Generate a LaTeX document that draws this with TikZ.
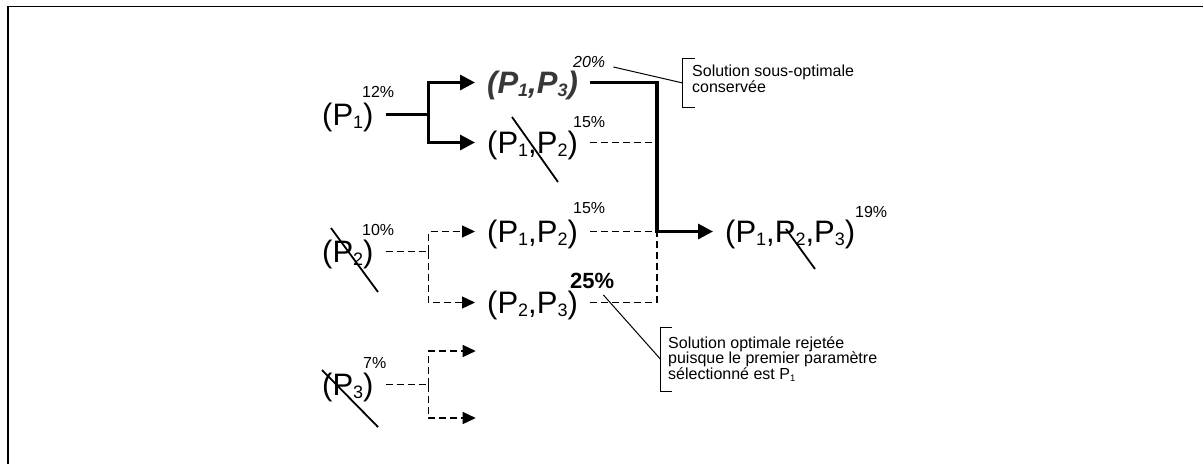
\documentclass[tikz,border=0pt]{standalone}
\usepackage{fontspec}
\setmainfont{Liberation Sans}
\usetikzlibrary{arrows.meta,calc}
% lowered index inside the large parameter sets
\newcommand\sbs[1]{\raisebox{-3.5pt}{\fontsize{18}{18}\selectfont #1}}
% small index inside the notes
\newcommand\tinysub[1]{\raisebox{-2pt}{\fontsize{9.5}{9.5}\selectfont #1}}
\begin{document}
\begin{tikzpicture}[x=1pt,y=-1pt,
  big/.style={font=\fontsize{31}{31}\selectfont, inner sep=0pt,
    text height=27pt, text depth=6pt, anchor=base west},
  bigemph/.style={big, font=\fontsize{31}{31}\selectfont\bfseries\itshape, text=black!78},
  pct/.style={font=\fontsize{16}{16}\selectfont, inner sep=0pt, anchor=base west},
  solidline/.style={line width=3.2pt},
  dashline/.style={line width=1.3pt, dash pattern=on 7pt off 4pt},
  bigtip/.style={-{Triangle[length=15pt,width=15pt]}},
  smalltip/.style={-{Triangle[length=13pt,width=12pt]}},
  strike/.style={line width=1.8pt},
  bracket/.style={inner sep=0pt, minimum width=12pt},
  note/.style={inner sep=0pt, anchor=north west, align=left},
  leader/.style={line width=1pt},
  frame/.style={line width=1.5pt}]
\useasboundingbox (0,0) rectangle (1203,464);
\draw[frame] (8,464) -- (8,6.5) -- (1203,6.5);

% parameter sets
\node[big]     (p1)   at (322,125) {(P\sbs{1})};
\node[big]     (p2)   at (322,262) {(P\sbs{2})};
\node[big]     (p3)   at (322,395) {(P\sbs{3})};
\node[bigemph] (p13)  at (487,93)  {(P\sbs{1},P\sbs{3})};
\node[big]     (p12x) at (487,153) {(P\sbs{1},P\sbs{2})};
\node[big]     (p12)  at (487,242) {(P\sbs{1},P\sbs{2})};
\node[big]     (p23)  at (487,313) {(P\sbs{2},P\sbs{3})};
\node[big]     (p123) at (725,242) {(P\sbs{1},P\sbs{2},P\sbs{3})};

% scores
\node[pct] (l12) at (362,97)  {12\%};
\node[pct, font=\fontsize{16}{16}\selectfont\itshape] (l20) at (573,67) {20\%};
\node[pct] (l15a) at (573,127) {15\%};
\node[pct] (l15b) at (573,213) {15\%};
\node[pct] (l10) at (362,235) {10\%};
\node[pct, font=\fontsize{22}{22}\selectfont\bfseries] (l25) at (570,288) {25\%};
\node[pct] (l7)  at (363,368) {7\%};
\node[pct] (l19) at (855,217) {19\%};

% rejected entries
\draw[strike] (512,117) -- (558,182);
\draw[strike] (331,228) -- (378,292);
\draw[strike] (322,370) -- (378,427);
\draw[strike] (786,229) -- (815,269);

% branch points
\coordinate (j1) at ([xshift=55pt]p1.east);
\coordinate (j2) at ([xshift=55pt]p2.east);
\coordinate (j3) at ([xshift=55pt]p3.east);
\coordinate (busx) at (657,0);
\coordinate (m) at (busx |- p12.east);
\coordinate (e1) at ([yshift=33.5pt,xshift=47pt]j3);
\coordinate (e2) at ([yshift=-33.5pt,xshift=47pt]j3);

% path of P1
\draw[solidline] ([xshift=12pt]p1.east) -- (j1);
\draw[solidline,bigtip] (j1) |- ([xshift=-12pt]p13.west);
\draw[solidline,bigtip] (j1) |- ([xshift=-12pt]p12x.west);

% path of P2
\draw[dashline] ([xshift=12pt]p2.east) -- (j2);
\draw[dashline,smalltip] (j2) |- ([xshift=-12pt]p12.west);
\draw[dashline,smalltip] (j2) |- ([xshift=-12pt]p23.west);

% path of P3
\draw[dashline] ([xshift=12pt]p3.east) -- (j3);
\draw[dashline,smalltip] (j3) |- (e1);
\draw[dashline,smalltip] (j3) |- (e2);

% merging into the final set
\draw[dashline] ([xshift=12pt]p12x.east) -- (busx |- p12x.east);
\draw[dashline] ([xshift=12pt]p12.east) -- (m);
\draw[dashline] ([xshift=12pt]p23.east) -| (m);
\draw[solidline,bigtip] ([xshift=12pt]p13.east) -| (m) -- ([xshift=-12pt]p123.west);

% notes
\node[bracket, minimum height=48pt] (b1) at (689,83) {};
\draw[leader] (b1.north east) -- (b1.north west) -- (b1.south west) -- (b1.south east);
\node[note, font=\fontsize{16}{14}\selectfont] (t1) at (692,64.5)
  {Solution sous-optimale\\conservée};
\draw[leader] ([xshift=8pt]l20.base east) -- (b1.west);

\node[bracket, minimum width=11pt, minimum height=63pt] (b2) at (666.5,359.5) {};
\draw[leader] (b2.north east) -- (b2.north west) -- (b2.south west) -- (b2.south east);
\node[note, font=\fontsize{16}{15.5}\selectfont] (t2) at (668,336.5)
  {Solution optimale rejetée\\puisque le premier paramètre\\sélectionné est P\tinysub{1}};
\draw[leader] ([xshift=-11pt,yshift=-7pt]l25.base east) -- (b2.west);
\end{tikzpicture}
\end{document}
